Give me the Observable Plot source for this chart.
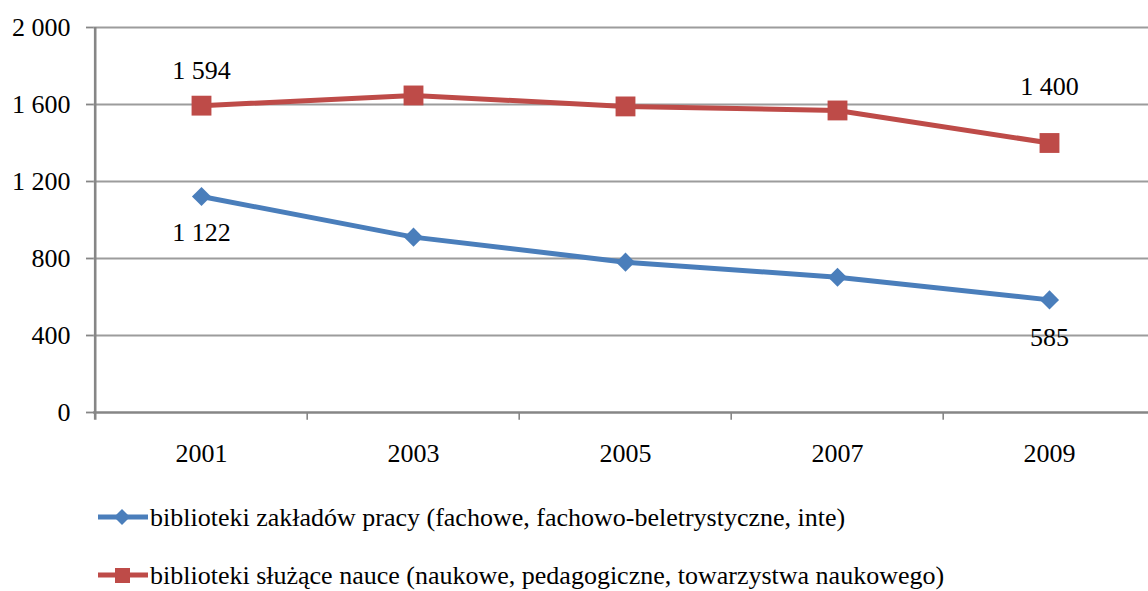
<!DOCTYPE html>
<html>
<head>
<meta charset="utf-8">
<script src="https://cdn.jsdelivr.net/npm/d3@7"></script>
<script src="https://cdn.jsdelivr.net/npm/@observablehq/plot@0.6"></script>
<style>
  html, body { margin: 0; padding: 0; background: #fff; }
  #wrap { position: relative; width: 1148px; height: 591px; overflow: hidden; font-family: "Liberation Serif", "Tinos", "Times New Roman", "DejaVu Serif", serif; }
  .lg-text { position: absolute; font-size: 26px; line-height: 26px; color: #000; white-space: nowrap; }
  .lg-swatch { position: absolute; }
  #wrap svg text { font-family: "Liberation Serif", "Tinos", "Times New Roman", "DejaVu Serif", serif; }
</style>
</head>
<body>
<div id="wrap"></div>
<script>
const years = ["2001", "2003", "2005", "2007", "2009"];
const zakladowPracy = [1122, 911, 781, 703, 585];
const sluzaceNauce = [1594, 1647, 1590, 1569, 1400];
const yTicks = [0, 400, 800, 1200, 1600, 2000];
const seriesNames = [
  "biblioteki zakładów pracy (fachowe, fachowo-beletrystyczne, inte)",
  "biblioteki służące nauce (naukowe, pedagogiczne, towarzystwa naukowego)"
];
const colors = ["#4A7EBB", "#BE4B48"];

const blue = years.map((y, i) => ({year: y, value: zakladowPracy[i]}));
const red = years.map((y, i) => ({year: y, value: sluzaceNauce[i]}));

const fmt = d => String(d).replace(/\B(?=(\d{3})+(?!\d))/g, "\u00a0");

const x0 = 93, x1 = 1156;
const step = (x1 - x0) / years.length;
const FONT = "'Liberation Serif', 'Tinos', 'Times New Roman', 'DejaVu Serif', serif";

const chart = Plot.plot({
  width: 1148,
  height: 470,
  marginLeft: 93,
  marginRight: 0,
  marginTop: 27,
  marginBottom: 58,
  style: {fontFamily: FONT, fontSize: "26px", color: "#000", background: "#fff", overflow: "visible"},
  x: {type: "point", domain: years, range: [x0, x1], padding: 0.5},
  y: {domain: [0, 2000], range: [412, 27]},
  marks: [
    Plot.ruleY(yTicks.filter(d => d > 0), {stroke: "#9c9c9c", strokeWidth: 1.8}),
    Plot.ruleY([0], {stroke: "#868686", strokeWidth: 2.6}),
    Plot.ruleX([years[0]], {x: d => d, dx: -step / 2, y1: -40, y2: 2000, stroke: "#868686", strokeWidth: 2.6}),
    Plot.ruleX(years.slice(1), {x: d => d, dx: -step / 2, y1: 0, y2: -40, stroke: "#868686", strokeWidth: 1.6}),
    Plot.axisY({ticks: yTicks, tickSize: 7, tickPadding: 16, tickFormat: fmt, stroke: "#868686", strokeWidth: 1.8, fill: "#000", label: null}),
    Plot.axisX({tickSize: 0, tickPadding: 31, fill: "#000", label: null}),
    Plot.line(blue, {x: "year", y: "value", stroke: colors[0], strokeWidth: 5}),
    Plot.line(red, {x: "year", y: "value", stroke: colors[1], strokeWidth: 5}),
    Plot.dot(blue, {x: "year", y: "value", symbol: "diamond2", r: 8.6, fill: colors[0], stroke: "none"}),
    Plot.dot(red, {x: "year", y: "value", symbol: "square", r: 11.2, fill: colors[1], stroke: "none"}),
    Plot.text(red.filter(d => d.year === "2001"), {x: "year", y: "value", text: d => fmt(d.value), dy: -35, fill: "#000"}),
    Plot.text(red.filter(d => d.year === "2009"), {x: "year", y: "value", text: d => fmt(d.value), dy: -56, fill: "#000"}),
    Plot.text(blue.filter(d => d.year === "2001"), {x: "year", y: "value", text: d => fmt(d.value), dy: 36, fill: "#000"}),
    Plot.text(blue.filter(d => d.year === "2009"), {x: "year", y: "value", text: d => fmt(d.value), dy: 38, fill: "#000"})
  ]
});

const wrap = document.getElementById("wrap");
wrap.appendChild(chart);

// Legend
const rows = [{cy: 517, base: 505, sym: "diamond"}, {cy: 575, base: 563, sym: "square"}];
rows.forEach((r, i) => {
  const ns = "http://www.w3.org/2000/svg";
  const svg = document.createElementNS(ns, "svg");
  svg.setAttribute("width", 56);
  svg.setAttribute("height", 24);
  svg.setAttribute("class", "lg-swatch");
  svg.style.left = "96px";
  svg.style.top = (r.cy - 12) + "px";
  const line = document.createElementNS(ns, "line");
  line.setAttribute("x1", 2); line.setAttribute("x2", 52);
  line.setAttribute("y1", 12); line.setAttribute("y2", 12);
  line.setAttribute("stroke", colors[i]); line.setAttribute("stroke-width", 5);
  svg.appendChild(line);
  const m = document.createElementNS(ns, "path");
  if (r.sym === "diamond") m.setAttribute("d", "M26,4L34,12L26,20L18,12Z");
  else m.setAttribute("d", "M19,5H34V20H19Z");
  m.setAttribute("fill", colors[i]);
  svg.appendChild(m);
  wrap.appendChild(svg);
  const t = document.createElement("div");
  t.className = "lg-text";
  t.style.left = "150px";
  t.style.top = r.base + "px";
  t.style.fontFamily = FONT;
  t.textContent = seriesNames[i];
  wrap.appendChild(t);
});
</script>
</body>
</html>
